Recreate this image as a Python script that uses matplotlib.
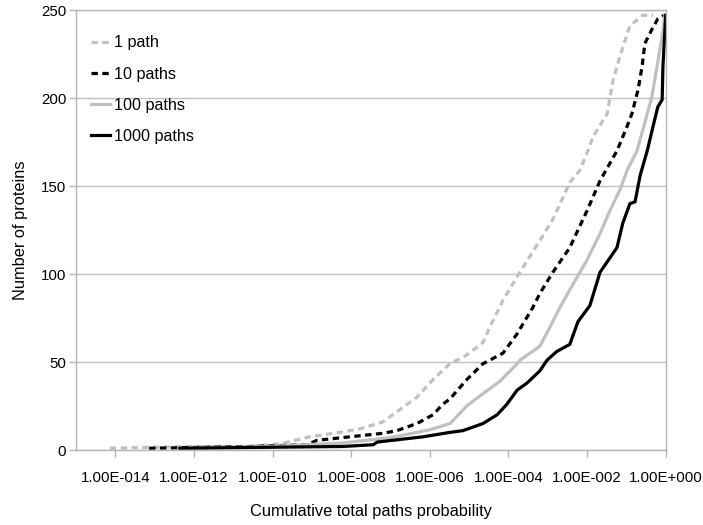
import numpy as np
import matplotlib
matplotlib.use("Agg")
import matplotlib.pyplot as plt
from matplotlib.ticker import FixedLocator, FixedFormatter, NullLocator

plt.rcParams['font.family'] = ['Liberation Sans', 'DejaVu Sans']

# cumulative curves: log10(total path probability) vs number of proteins
exp_1 = [-14.14, -13.12, -11.85, -10.58, -9.81, -9.05, -8.29, -7.78, -7.19, -6.76,
         -6.33, -5.92, -5.49, -5.06, -4.65, -4.47, -4.14, -3.71, -3.20, -2.87,
         -2.44, -2.18, -1.98, -1.85, -1.49, -1.34, -1.16, -0.91, -0.58, -0.32]
cnt_1 = [1, 1.5, 2, 2, 3.5, 7.5, 10, 12, 16, 23,
         30, 40, 49, 54, 61, 70, 85, 101, 119, 131,
         152, 159, 170, 178, 191, 210, 224, 241, 247, 247]

exp_10 = [-13.14, -11.85, -10.58, -9.13, -8.87, -8.03, -7.19, -6.84, -6.33, -5.92,
          -5.67, -5.49, -5.06, -4.65, -4.14, -3.78, -3.38, -3.20, -2.87, -2.44,
          -2.00, -1.67, -1.24, -0.98, -0.86, -0.70, -0.60, -0.53, -0.35, -0.20, -0.04]
cnt_10 = [1, 1.5, 2, 3, 5.5, 7.5, 9.5, 11, 15, 20,
          26, 29, 40, 49, 55, 66, 81, 89, 101, 115,
          136, 153, 170, 184, 191, 205, 218, 231, 239, 245, 247]

exp_100 = [-12.10, -10.07, -8.21, -7.01, -6.00, -5.49, -5.06, -4.65, -4.22, -3.78,
           -3.71, -3.20, -2.94, -2.69, -2.44, -2.00, -1.67, -1.42, -1.16, -0.98,
           -0.73, -0.47, -0.35, -0.22, -0.09, -0.02]
cnt_100 = [1, 2, 4, 7, 11.5, 15, 25, 32, 39, 49,
           51, 59, 70, 81, 91, 108, 123, 136, 148, 159,
           170, 191, 201, 218, 235, 247]

exp_1000 = [-12.36, -8.21, -7.44, -7.34, -6.17, -5.49, -5.16, -4.65, -4.29, -4.04,
            -3.78, -3.53, -3.20, -3.02, -2.77, -2.44, -2.23, -1.93, -1.67, -1.24,
            -1.09, -0.91, -0.78, -0.65, -0.47, -0.32, -0.20, -0.09, -0.07, 0.0]
cnt_1000 = [1, 2, 3, 4.5, 7.5, 10, 11, 15, 20, 26,
            34, 38, 45, 51, 56, 60, 73, 82, 101, 115,
            129, 140, 141, 156, 170, 184, 195, 199, 218, 247]

labels = ['1 path', '10 paths', '100 paths', '1000 paths']
tick_exps = [-14, -12, -10, -8, -6, -4, -2, 0]
tick_labels = ['1.00E-014', '1.00E-012', '1.00E-010', '1.00E-008',
               '1.00E-006', '1.00E-004', '1.00E-002', '1.00E+000']
y_ticks = [0, 50, 100, 150, 200, 250]

light = '#c0c0c0'
fig = plt.figure(figsize=(7.03, 5.25), dpi=100)
ax = fig.add_axes([76 / 703, 75 / 525, (665.7 - 76) / 703, 440 / 525])

lw = 2.3
ax.plot(10.0 ** np.array(exp_1), cnt_1, color=light, lw=lw, dashes=(2.0, 1.4), label=labels[0])
ax.plot(10.0 ** np.array(exp_10), cnt_10, color='black', lw=lw, dashes=(2.0, 1.4), label=labels[1])
ax.plot(10.0 ** np.array(exp_100), cnt_100, color=light, lw=lw, label=labels[2])
ax.plot(10.0 ** np.array(exp_1000), cnt_1000, color='black', lw=lw, label=labels[3])

ax.set_xscale('log')
ax.set_xlim(1e-15, 1e0)
ax.set_ylim(0, 250)

ax.xaxis.set_major_locator(FixedLocator([10.0 ** e for e in tick_exps]))
ax.xaxis.set_major_formatter(FixedFormatter(tick_labels))
ax.xaxis.set_minor_locator(NullLocator())
ax.set_yticks(y_ticks)

ax.grid(axis='y', color=light, lw=1.0)
ax.set_axisbelow(True)
for s in ax.spines.values():
    s.set_color('#b4b4b4')
    s.set_linewidth(1.0)

ax.tick_params(axis='both', direction='out', length=5, width=1.0, color='#b4b4b4',
               labelsize=10.8)
ax.tick_params(axis='x', pad=10)
ax.tick_params(axis='y', pad=2)

ax.set_xlabel('Cumulative total paths probability', fontsize=11.8, labelpad=14)
ax.set_ylabel('Number of proteins', fontsize=11.8, labelpad=9)

ax.legend(loc='upper left', bbox_to_anchor=(0.0, 0.975), frameon=False, fontsize=11.6,
          handlelength=1.2, handletextpad=0.25, labelspacing=1.0)

fig.savefig('out.png', dpi=100, facecolor='white')
